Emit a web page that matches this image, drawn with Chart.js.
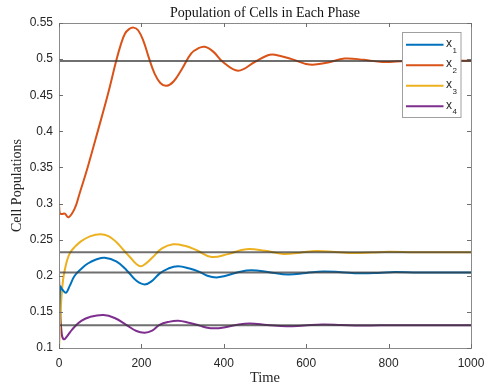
<!DOCTYPE html>
<html>
<head>
<meta charset="utf-8">
<script src="https://cdn.jsdelivr.net/npm/chart.js@4.4.1/dist/chart.umd.min.js"></script>
<style>
html,body{margin:0;padding:0;background:#fff;}
canvas{display:block;}
</style>
</head>
<body>
<canvas id="c" width="484" height="389"></canvas>
<script>
// ---- data ----
const chartTitle = "Population of Cells in Each Phase";
const xAxisLabel = "Time";
const yAxisLabel = "Cell Populations";
const seriesNames = ["x", "x", "x", "x"];
const seriesSubs = ["1", "2", "3", "4"];
const seriesColors = ["#0072BD", "#D95319", "#EDB120", "#7E2F8E"];

const x1Time = [0, 3, 8, 17, 26, 38, 55, 70, 90, 111, 140, 164, 188, 208, 226, 244, 265, 289, 317, 341, 360, 382, 405, 435, 467, 510, 556, 600, 641, 685, 730, 775, 815, 870, 930, 1000];
const x1Vals = [0.125, 0.185, 0.181, 0.1765, 0.186, 0.200, 0.210, 0.217, 0.2225, 0.2250, 0.2195, 0.2077, 0.193, 0.188, 0.193, 0.203, 0.210, 0.2133, 0.210, 0.2054, 0.200, 0.1977, 0.200, 0.205, 0.2077, 0.205, 0.2018, 0.204, 0.206, 0.205, 0.2035, 0.204, 0.2052, 0.2045, 0.2044, 0.2046];

const x2Time = [0, 2, 7, 14, 23, 38, 50, 70, 95, 119, 139, 150, 160, 170, 181, 192, 205, 218, 232, 246, 261, 278, 297, 321, 338, 354, 375, 398, 435, 475, 507, 524, 565, 608, 650, 693, 740, 785, 840, 900, 1000];
const x2Vals = [0.300, 0.2865, 0.2855, 0.286, 0.281, 0.293, 0.314, 0.351, 0.402, 0.452, 0.498, 0.520, 0.535, 0.5415, 0.5436, 0.540, 0.525, 0.502, 0.480, 0.467, 0.463, 0.469, 0.485, 0.508, 0.515, 0.517, 0.510, 0.496, 0.484, 0.496, 0.5054, 0.506, 0.500, 0.4925, 0.495, 0.5008, 0.499, 0.496, 0.4975, 0.4985, 0.4977];

const x3Time = [0, 3, 6, 10, 14, 20, 28, 40, 54, 75, 100, 120, 139, 156, 172, 196, 212, 228, 250, 277, 305, 334, 370, 410, 455, 500, 544, 585, 625, 670, 715, 760, 800, 860, 920, 1000];
const x3Vals = [0.100, 0.135, 0.171, 0.195, 0.208, 0.222, 0.233, 0.241, 0.248, 0.2545, 0.2575, 0.2550, 0.2468, 0.236, 0.2261, 0.2133, 0.2175, 0.2261, 0.238, 0.2436, 0.2415, 0.2354, 0.226, 0.230, 0.2368, 0.2345, 0.2303, 0.232, 0.2344, 0.233, 0.2315, 0.2322, 0.2333, 0.2327, 0.2325, 0.2326];

const x4Time = [0, 3, 7, 12, 18, 27, 38, 55, 75, 108, 135, 164, 188, 208, 226, 244, 265, 289, 315, 341, 360, 378, 400, 430, 463, 505, 552, 595, 640, 685, 730, 780, 830, 900, 1000];
const x4Vals = [0.1985, 0.150, 0.118, 0.112, 0.115, 0.122, 0.1295, 0.138, 0.143, 0.1456, 0.1415, 0.1318, 0.1235, 0.1212, 0.124, 0.132, 0.136, 0.1377, 0.135, 0.131, 0.128, 0.1272, 0.1285, 0.132, 0.134, 0.132, 0.130, 0.1312, 0.1325, 0.1318, 0.131, 0.1316, 0.1316, 0.1314, 0.1314];

const equilibria = [0.2046, 0.4975, 0.2326, 0.1314];
const timeRange = [0, 1000];
const xTicks = [0, 200, 400, 600, 800, 1000];
const yTicks = [0.1, 0.15, 0.2, 0.25, 0.3, 0.35, 0.4, 0.45, 0.5, 0.55];

// ---- build datasets ----
const times = [x1Time, x2Time, x3Time, x4Time];
const vals = [x1Vals, x2Vals, x3Vals, x4Vals];
const datasets = [];
for (let i = 0; i < 4; i++) {
  datasets.push({
    label: seriesNames[i] + seriesSubs[i],
    data: times[i].map((t, k) => ({x: t, y: vals[i][k]})),
    borderColor: seriesColors[i],
    borderWidth: 2,
    pointRadius: 0,
    fill: false,
    tension: 0.4,
    order: 1
  });
}
equilibria.forEach(v => {
  datasets.push({
    label: 'eq',
    data: timeRange.map(t => ({x: t, y: v})),
    borderColor: 'rgba(55,55,55,0.72)',
    borderWidth: 2,
    pointRadius: 0,
    fill: false,
    order: 0
  });
});

const serif = "'Liberation Serif', 'Times New Roman', serif";
const sans = "'Liberation Sans', Arial, sans-serif";

const framePlugin = {
  id: 'frame',
  afterDatasetsDraw(chart) {
    const {ctx, chartArea: a, scales} = chart;
    ctx.save();
    ctx.strokeStyle = '#8a8a8a';
    ctx.lineWidth = 1;
    ctx.strokeRect(Math.round(a.left) + 0.5, Math.round(a.top) + 0.5, Math.round(a.right - a.left), Math.round(a.bottom - a.top));
    const tl = 4;
    ctx.strokeStyle = '#6e6e6e';
    ctx.beginPath();
    xTicks.forEach(v => {
      const px = Math.round(scales.x.getPixelForValue(v)) + 0.5;
      ctx.moveTo(px, a.bottom); ctx.lineTo(px, a.bottom - tl);
      ctx.moveTo(px, a.top); ctx.lineTo(px, a.top + tl);
    });
    yTicks.forEach(v => {
      const py = Math.round(scales.y.getPixelForValue(v)) + 0.5;
      ctx.moveTo(a.left, py); ctx.lineTo(a.left + tl, py);
      ctx.moveTo(a.right, py); ctx.lineTo(a.right - tl, py);
    });
    ctx.stroke();

    // legend
    const lx = 402.5, ly = 32.5, lw = 58.5, lh = 85;
    ctx.fillStyle = '#fff';
    ctx.fillRect(lx, ly, lw, lh);
    ctx.strokeStyle = '#a0a0a0';
    ctx.lineWidth = 1;
    ctx.strokeRect(lx, ly, lw, lh);
    for (let i = 0; i < 4; i++) {
      const y = 44.7 + i * 20.55;
      ctx.strokeStyle = seriesColors[i];
      ctx.lineWidth = 2;
      ctx.beginPath();
      ctx.moveTo(406, y); ctx.lineTo(443.5, y);
      ctx.stroke();
      ctx.fillStyle = '#262626';
      ctx.textAlign = 'left';
      ctx.textBaseline = 'alphabetic';
      ctx.font = '12px ' + sans;
      ctx.fillText(seriesNames[i], 446, y + 2.2);
      ctx.font = '8px ' + sans;
      ctx.fillText(seriesSubs[i], 452.6, y + 7.8);
    }

    const cx = (a.left + a.right) / 2;
    ctx.fillStyle = '#111';
    ctx.textAlign = 'center';
    ctx.textBaseline = 'alphabetic';
    ctx.font = '14px ' + serif;
    ctx.fillText(chartTitle, cx, 16.5);
    ctx.font = '14.5px ' + serif;
    ctx.fillStyle = '#262626';
    ctx.fillText(xAxisLabel, cx, 381.5);
    ctx.save();
    ctx.translate(20.5, (a.top + a.bottom) / 2);
    ctx.rotate(-Math.PI / 2);
    ctx.font = '14px ' + serif;
    ctx.fillText(yAxisLabel, 0, 0);
    ctx.restore();
    ctx.restore();
  }
};

new Chart(document.getElementById('c'), {
  type: 'line',
  data: { datasets },
  options: {
    responsive: false,
    devicePixelRatio: 1,
    animation: false,
    layout: { padding: { left: 0, top: 23, right: 13, bottom: 0 } },
    plugins: { legend: { display: false }, tooltip: { enabled: false }, title: { display: false } },
    scales: {
      x: {
        type: 'linear',
        min: timeRange[0], max: timeRange[1],
        afterBuildTicks: s => { s.ticks = xTicks.map(v => ({value: v})); },
        afterFit: s => { s.height = 41; s.paddingLeft = 0; s.paddingRight = 0; },
        grid: { display: false, drawTicks: false },
        border: { display: false },
        ticks: { color: '#262626', font: { family: sans, size: 12 }, padding: 8, maxRotation: 0, autoSkip: false,
                 callback: v => String(v) }
      },
      y: {
        type: 'linear',
        min: yTicks[0], max: yTicks[yTicks.length - 1],
        afterBuildTicks: s => { s.ticks = yTicks.map(v => ({value: v})); },
        afterFit: s => { s.width = 59; s.paddingTop = 0; s.paddingBottom = 0; },
        grid: { display: false, drawTicks: false },
        border: { display: false },
        ticks: { color: '#262626', font: { family: sans, size: 12 }, padding: 6, autoSkip: false,
                 callback: v => String(+(+v).toFixed(2)) }
      }
    }
  },
  plugins: [framePlugin]
});
</script>
</body>
</html>
